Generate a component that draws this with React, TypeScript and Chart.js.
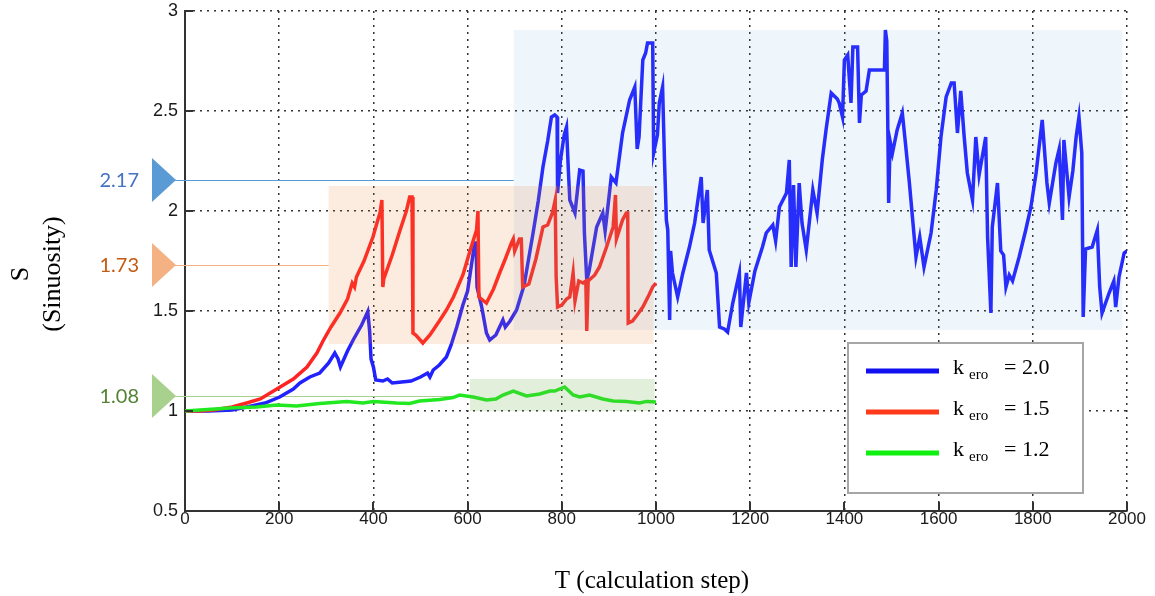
import React, { useEffect, useRef } from 'react';
import { Chart, registerables } from 'chart.js';
Chart.register(...registerables);

// ---------- data ----------
const xTicks = [0, 200, 400, 600, 800, 1000, 1200, 1400, 1600, 1800, 2000];
const yTicks = [0.5, 1, 1.5, 2, 2.5, 3];
const seriesLabels = ['2.0', '1.5', '1.2'];

const blueT = [
  0, 50, 100, 131, 170, 201, 230, 244, 265, 286, 305, 318, 325, 330, 345, 357, 375, 388, 392, 395,
  400, 405, 420, 430, 440, 460, 480, 500, 515, 520, 527, 540, 555, 565, 577, 590, 600, 615, 618, 620,
  630, 640, 647, 660, 675, 680, 690, 704, 720, 739, 750, 760, 770, 778, 785, 790, 791, 797, 805, 810,
  814, 817, 828, 838, 845, 848, 853, 858, 874, 887, 892, 905, 915, 929, 944, 955, 960, 964, 972, 978,
  982, 993, 995, 1003, 1007, 1014, 1018, 1022, 1025, 1029, 1031, 1035, 1046, 1057, 1071, 1082, 1096, 1100, 1109, 1113,
  1128, 1135, 1145, 1152, 1163, 1177, 1180, 1192, 1197, 1210, 1226, 1234, 1248, 1254, 1262, 1277, 1283, 1287, 1292, 1297,
  1304, 1310, 1319, 1333, 1342, 1353, 1361, 1372, 1385, 1389, 1396, 1400, 1407, 1414, 1418, 1428, 1432, 1436, 1446, 1453,
  1485, 1487, 1490, 1492, 1494, 1497, 1502, 1512, 1523, 1530, 1538, 1545, 1552, 1560, 1569, 1584, 1595, 1605, 1616, 1627,
  1633, 1640, 1647, 1654, 1661, 1672, 1679, 1686, 1700, 1704, 1711, 1714, 1725, 1732, 1738, 1743, 1750, 1757, 1771, 1785,
  1796, 1807, 1820, 1824, 1830, 1835, 1849, 1856, 1863, 1866, 1877, 1885, 1892, 1898, 1904, 1907, 1912, 1926, 1937, 1942,
  1947, 1962, 1972, 1976, 1983, 1994, 2000,
];
const blueS = [
  1.0, 1.0, 1.005, 1.02, 1.04, 1.07, 1.11, 1.14, 1.17, 1.19, 1.24, 1.29, 1.26, 1.22, 1.3, 1.355, 1.43, 1.497, 1.4, 1.26,
  1.22, 1.155, 1.15, 1.16, 1.14, 1.145, 1.15, 1.17, 1.19, 1.17, 1.205, 1.23, 1.27, 1.33, 1.42, 1.53, 1.6, 1.84, 1.84, 1.62,
  1.52, 1.39, 1.355, 1.38, 1.455, 1.42, 1.45, 1.505, 1.63, 1.89, 2.05, 2.22, 2.35, 2.47, 2.48, 2.47, 2.09, 2.25, 2.38, 2.42,
  2.2, 2.055, 1.99, 2.205, 2.2, 1.89, 1.655, 1.7, 1.92, 1.99, 1.9, 2.17, 2.14, 2.39, 2.555, 2.62, 2.31, 2.37, 2.755, 2.79,
  2.84, 2.84, 2.29, 2.38, 2.54, 2.62, 2.255, 1.955, 1.905, 1.455, 1.8, 1.69, 1.57, 1.69, 1.82, 1.94, 2.17, 1.94, 2.105, 1.805,
  1.69, 1.42, 1.41, 1.395, 1.54, 1.69, 1.42, 1.69, 1.54, 1.7, 1.82, 1.89, 1.93, 1.85, 2.02, 2.09, 2.255, 1.72, 2.13, 1.72,
  2.14, 1.94, 1.805, 2.105, 1.99, 2.255, 2.405, 2.59, 2.56, 2.54, 2.47, 2.755, 2.78, 2.54, 2.82, 2.82, 2.44, 2.58, 2.6, 2.705,
  2.705, 2.905, 2.85, 2.455, 2.04, 2.35, 2.29, 2.405, 2.49, 2.33, 2.14, 1.955, 1.77, 1.87, 1.72, 1.89, 2.105, 2.37, 2.57, 2.64,
  2.64, 2.39, 2.6, 2.38, 2.19, 2.055, 2.37, 2.18, 2.37, 1.87, 1.49, 1.92, 2.14, 1.8, 1.78, 1.62, 1.68, 1.65, 1.77, 1.905,
  2.02, 2.19, 2.455, 2.33, 2.14, 2.04, 2.24, 2.31, 1.955, 2.355, 2.07, 2.2, 2.37, 2.47, 2.29, 1.47, 1.81, 1.82, 1.905, 1.62,
  1.49, 1.59, 1.65, 1.52, 1.67, 1.79, 1.8,
];

const redT = [
  0, 30, 60, 100, 131, 160, 195, 230, 259, 280, 293, 310, 329, 345, 355, 360, 364, 380, 399, 410,
  414, 418, 420, 422, 440, 456, 470, 477, 482, 484, 490, 505, 520, 540, 555, 570, 590, 605, 619, 622,
  624, 640, 655, 668, 680, 693, 697, 700, 710, 714, 717, 730, 745, 760, 770, 780, 786, 788, 791, 800,
  810, 817, 824, 828, 836, 845, 851, 853, 856, 870, 880, 895, 909, 914, 916, 929, 937, 940, 941, 950,
  960, 972, 985, 993, 1000,
];
const redS = [
  1.0, 1.0, 1.005, 1.02, 1.04, 1.06, 1.11, 1.16, 1.22, 1.29, 1.35, 1.42, 1.49, 1.56, 1.64, 1.62, 1.67, 1.75, 1.87, 1.96,
  1.99, 2.055, 1.62, 1.66, 1.78, 1.9, 2.0, 2.07, 2.07, 1.39, 1.38, 1.34, 1.38, 1.45, 1.505, 1.57, 1.68, 1.8, 1.905, 2.0,
  1.57, 1.54, 1.61, 1.69, 1.76, 1.84, 1.86, 1.8, 1.86, 1.86, 1.62, 1.635, 1.76, 1.92, 1.93, 1.99, 2.055, 1.67, 1.52, 1.53,
  1.56, 1.57, 1.69, 1.55, 1.65, 1.64, 1.65, 1.4, 1.65, 1.68, 1.72, 1.82, 1.92, 2.08, 1.86, 1.955, 1.99, 1.99, 1.44, 1.45,
  1.48, 1.52, 1.58, 1.62, 1.64,
];

const greenT = [
  0, 95, 152, 195, 237, 286, 343, 378, 400, 449, 477, 498, 541, 569, 583, 597, 612, 640, 660, 675,
  697, 725, 753, 775, 785, 806, 824, 838, 859, 887, 909, 937, 965, 980, 1000,
];
const greenS = [
  1.0, 1.015, 1.02, 1.03, 1.025, 1.038, 1.047, 1.04, 1.047, 1.04, 1.038, 1.05, 1.058, 1.067, 1.08, 1.075, 1.07, 1.055, 1.06, 1.08,
  1.1, 1.075, 1.085, 1.1, 1.1, 1.12, 1.08, 1.07, 1.08, 1.06, 1.05, 1.047, 1.04, 1.048, 1.045,
];

// annotation markers (value labels, levels, where their guide line stops)
const annLabels = ['2.17', '1.73', '1.08'];
const annLevels = [2.155, 1.73, 1.075];
const annEndT = [698, 305, 605];

// highlighted ranges: [T start, T end] x [S low, S high]
const boxT0 = [698, 305, 605];
const boxT1 = [1990, 995, 997];
const boxS0 = [1.405, 1.335, 1.0];
const boxS1 = [2.905, 2.125, 1.16];

// ---------- styles ----------
const lineColors = ['#2222ff', '#ff2424', '#22e822'];
const legendColors = ['#1010f0', '#ff3a1a', '#10f010'];
const boxFills = ['rgba(91,155,213,0.10)', 'rgba(237,125,49,0.15)', 'rgba(112,173,71,0.20)'];
const triColors = ['#5b9bd5', '#f4b183', '#a9d18e'];
const annLineColors = ['#5b9bd5', '#f4b183', '#a9d18e'];
const annTextColors = ['#4472c4', '#c55a11', '#548235'];

const toPts = (t: number[], s: number[]) => t.map((v, i) => ({ x: v, y: s[i] }));

const overlay = {
  id: 'overlay',
  beforeDatasetsDraw(chart: any) {
    const { ctx, scales, chartArea } = chart;
    const x = scales.x, y = scales.y;
    ctx.save();
    annLevels.forEach((lv, i) => {
      const py = Math.round(y.getPixelForValue(lv)) + 0.5;
      ctx.strokeStyle = annLineColors[i];
      ctx.lineWidth = 1;
      ctx.beginPath();
      ctx.moveTo(chartArea.left - 10, py);
      ctx.lineTo(x.getPixelForValue(annEndT[i]), py);
      ctx.stroke();
    });
    ctx.restore();
  },
  afterDatasetsDraw(chart: any) {
    const { ctx, scales, chartArea } = chart;
    const x = scales.x, y = scales.y;
    ctx.save();
    // shaded ranges over the lines
    boxT0.forEach((t0, i) => {
      const x0 = x.getPixelForValue(t0), x1 = x.getPixelForValue(boxT1[i]);
      const y0 = y.getPixelForValue(boxS1[i]), y1 = y.getPixelForValue(boxS0[i]);
      ctx.fillStyle = boxFills[i];
      ctx.fillRect(x0, y0, x1 - x0, y1 - y0);
    });
    // triangles and value labels
    annLevels.forEach((lv, i) => {
      const py = y.getPixelForValue(lv);
      const tip = chartArea.left - 9;
      ctx.fillStyle = triColors[i];
      ctx.beginPath();
      ctx.moveTo(tip - 24, py - 22);
      ctx.lineTo(tip, py);
      ctx.lineTo(tip - 24, py + 22);
      ctx.closePath();
      ctx.fill();
      ctx.fillStyle = annTextColors[i];
      ctx.font = '20px Lato, "Open Sans", sans-serif';
      ctx.textAlign = 'right';
      ctx.textBaseline = 'middle';
      ctx.fillText(annLabels[i], chartArea.left - 46, py + 1);
    });
    // inward tick marks
    ctx.strokeStyle = '#333';
    ctx.lineWidth = 2;
    yTicks.forEach((v) => {
      const py = Math.round(y.getPixelForValue(v));
      ctx.beginPath();
      ctx.moveTo(chartArea.left, py);
      ctx.lineTo(chartArea.left + 8, py);
      ctx.stroke();
    });
    xTicks.forEach((v) => {
      const px = Math.round(x.getPixelForValue(v));
      ctx.beginPath();
      ctx.moveTo(px, chartArea.bottom);
      ctx.lineTo(px, chartArea.bottom - 9);
      ctx.stroke();
    });
    // legend
    const lx = 848, ly = 343, lw = 235, lh = 150;
    ctx.fillStyle = '#ffffff';
    ctx.fillRect(lx, ly, lw, lh);
    ctx.strokeStyle = '#a6a6a6';
    ctx.lineWidth = 2;
    ctx.strokeRect(lx, ly, lw, lh);
    seriesLabels.forEach((lab, i) => {
      const cy = 371 + i * 41;
      ctx.strokeStyle = legendColors[i];
      ctx.lineWidth = 5;
      ctx.beginPath();
      ctx.moveTo(866, cy);
      ctx.lineTo(939, cy);
      ctx.stroke();
      ctx.fillStyle = '#000';
      ctx.textAlign = 'left';
      ctx.textBaseline = 'alphabetic';
      ctx.font = '22px "Liberation Serif", serif';
      ctx.fillText('k', 953, cy + 3);
      ctx.font = '15px "Liberation Serif", serif';
      ctx.fillText('ero', 969, cy + 8);
      ctx.font = '22px "Liberation Serif", serif';
      ctx.fillText('= ' + lab, 1004, cy + 3);
    });
    // axis titles
    ctx.fillStyle = '#000';
    ctx.font = '25px "Liberation Serif", serif';
    ctx.textAlign = 'center';
    ctx.textBaseline = 'alphabetic';
    ctx.fillText('T (calculation step)', 652, 588);
    ctx.save();
    ctx.translate(0, 274);
    ctx.rotate(-Math.PI / 2);
    ctx.font = '26px "Liberation Serif", serif';
    ctx.fillText('S', 0, 28);
    ctx.fillText('(Sinuosity)', 0, 60);
    ctx.restore();
    ctx.restore();
  },
};

export default function App() {
  const ref = useRef<HTMLCanvasElement | null>(null);
  useEffect(() => {
    if (!ref.current) return;
    const chart = new Chart(ref.current, {
      type: 'line',
      data: {
        datasets: [
          { label: seriesLabels[2], data: toPts(greenT, greenS), borderColor: lineColors[2], order: 1 },
          { label: seriesLabels[1], data: toPts(redT, redS), borderColor: lineColors[1], order: 2 },
          { label: seriesLabels[0], data: toPts(blueT, blueS), borderColor: lineColors[0], order: 3 },
        ],
      },
      options: {
        animation: false,
        responsive: true,
        maintainAspectRatio: false,
        layout: { padding: { left: 0, top: 11, right: 28, bottom: 0 } },
        elements: { point: { radius: 0 }, line: { tension: 0, borderWidth: 3.5, borderJoinStyle: 'miter' } },
        plugins: { legend: { display: false }, tooltip: { enabled: false } },
        scales: {
          x: {
            type: 'linear',
            min: 0,
            max: 2000,
            afterBuildTicks: (s: any) => { s.ticks = xTicks.map((v) => ({ value: v })); },
            afterFit: (s: any) => { s.height = 85; s.paddingLeft = 0; s.paddingRight = 0; },
            ticks: { padding: -2, color: '#1a1a1a', font: { family: '"Liberation Sans", Arial, sans-serif', size: 17 }, maxRotation: 0, autoSkip: false, callback: (v: any) => String(v) },
            grid: { color: '#333', lineWidth: 1.5, drawTicks: false },
            border: { display: true, color: '#333', width: 2, dash: [2, 5] },
          },
          y: {
            type: 'linear',
            min: 0.5,
            max: 3,
            afterBuildTicks: (s: any) => { s.ticks = yTicks.map((v) => ({ value: v })); },
            afterFit: (s: any) => { s.width = 185; s.paddingTop = 0; s.paddingBottom = 0; },
            ticks: { padding: 7, color: '#1a1a1a', font: { family: '"Liberation Sans", Arial, sans-serif', size: 18 }, autoSkip: false, callback: (v: any) => String(v) },
            grid: { color: '#333', lineWidth: 1.5, drawTicks: false },
            border: { display: true, color: '#333', width: 2, dash: [2, 5] },
          },
        },
      },
      plugins: [overlay],
    } as any);
    return () => chart.destroy();
  }, []);
  return (
    <div style={{ position: 'fixed', left: 0, top: 0, width: 1155, height: 596, background: '#fff' }}>
      <canvas ref={ref} />
    </div>
  );
}
